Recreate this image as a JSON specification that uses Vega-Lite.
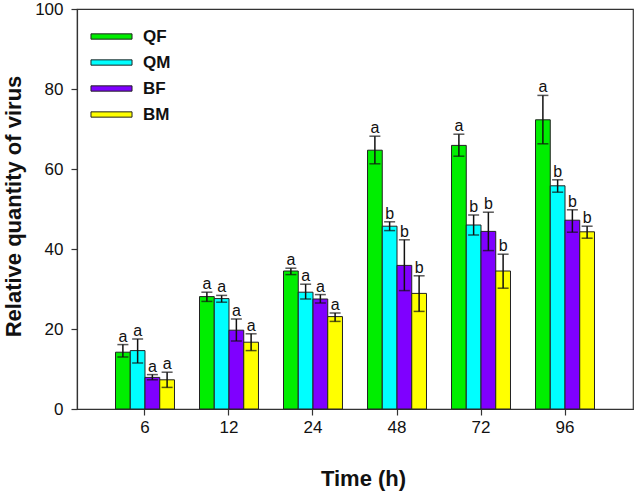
{
  "$schema": "https://vega.github.io/schema/vega-lite/v6.json",
  "width": 556,
  "height": 400,
  "autosize": {"type": "none"},
  "padding": {"left": 77, "top": 9, "right": 3, "bottom": 85},
  "background": "white",
  "config": {
    "font": "Liberation Sans",
    "view": {"stroke": "#333333", "strokeWidth": 1.2},
    "axis": {"grid": false, "domainColor": "#333333", "domainWidth": 1.2, "tickColor": "#333333", "tickWidth": 1.2, "labelColor": "#111111", "titleColor": "#111111"}
  },
  "data": {
    "values": [
      {"time": "6", "group": "QF", "value": 14.2, "lo": 13.0, "hi": 16.1, "letter": "a"},
      {"time": "6", "group": "QM", "value": 14.6, "lo": 11.5, "hi": 17.5, "letter": "a"},
      {"time": "6", "group": "BF", "value": 7.9, "lo": 7.3, "hi": 8.6, "letter": "a"},
      {"time": "6", "group": "BM", "value": 7.3, "lo": 5.4, "hi": 9.2, "letter": "a"},
      {"time": "12", "group": "QF", "value": 28.1, "lo": 26.9, "hi": 29.2, "letter": "a"},
      {"time": "12", "group": "QM", "value": 27.6, "lo": 26.7, "hi": 28.4, "letter": "a"},
      {"time": "12", "group": "BF", "value": 19.7, "lo": 17.0, "hi": 22.5, "letter": "a"},
      {"time": "12", "group": "BM", "value": 16.7, "lo": 14.6, "hi": 18.8, "letter": "a"},
      {"time": "24", "group": "QF", "value": 34.5, "lo": 33.6, "hi": 35.2, "letter": "a"},
      {"time": "24", "group": "QM", "value": 29.2, "lo": 27.5, "hi": 31.2, "letter": "a"},
      {"time": "24", "group": "BF", "value": 27.5, "lo": 26.5, "hi": 28.6, "letter": "a"},
      {"time": "24", "group": "BM", "value": 23.1, "lo": 21.9, "hi": 24.0, "letter": "a"},
      {"time": "48", "group": "QF", "value": 64.7, "lo": 61.3, "hi": 68.2, "letter": "a"},
      {"time": "48", "group": "QM", "value": 45.7, "lo": 44.6, "hi": 46.8, "letter": "b"},
      {"time": "48", "group": "BF", "value": 35.9, "lo": 29.6, "hi": 42.3, "letter": "b"},
      {"time": "48", "group": "BM", "value": 28.9, "lo": 24.4, "hi": 33.3, "letter": "b"},
      {"time": "72", "group": "QF", "value": 65.9, "lo": 63.2, "hi": 68.7, "letter": "a"},
      {"time": "72", "group": "QM", "value": 46.0, "lo": 43.5, "hi": 48.5, "letter": "b"},
      {"time": "72", "group": "BF", "value": 44.4, "lo": 39.6, "hi": 49.2, "letter": "b"},
      {"time": "72", "group": "BM", "value": 34.5, "lo": 30.2, "hi": 38.7, "letter": "b"},
      {"time": "96", "group": "QF", "value": 72.3, "lo": 66.3, "hi": 78.4, "letter": "a"},
      {"time": "96", "group": "QM", "value": 55.8, "lo": 54.2, "hi": 57.3, "letter": "b"},
      {"time": "96", "group": "BF", "value": 47.2, "lo": 44.2, "hi": 49.8, "letter": "b"},
      {"time": "96", "group": "BM", "value": 44.3, "lo": 42.7, "hi": 45.7, "letter": "b"}
    ]
  },
  "encoding": {
    "x": {
      "field": "time", "type": "nominal", "sort": ["6", "12", "24", "48", "72", "96"],
      "scale": {"paddingInner": 0.298, "paddingOuter": 0.4585},
      "axis": {
        "title": "Time (h)", "labelAngle": 0, "labelFontSize": 17, "tickSize": 6, "labelPadding": 4,
        "titleFontSize": 22, "titleFontWeight": "bold", "titleX": 286, "titleY": 76, "titleBaseline": "alphabetic", "titleAlign": "center"
      }
    },
    "xOffset": {"field": "group", "type": "nominal", "sort": ["QF", "QM", "BF", "BM"], "scale": {"paddingInner": 0, "paddingOuter": 0}}
  },
  "layer": [
    {
      "mark": {"type": "bar", "stroke": "#222222", "strokeWidth": 1, "opacity": 1},
      "encoding": {
        "y": {
          "field": "value", "type": "quantitative",
          "scale": {"domain": [0, 100], "nice": false},
          "axis": {
            "title": "Relative quantity of virus", "values": [0, 20, 40, 60, 80, 100], "labelFontSize": 17, "tickSize": 6, "labelPadding": 8,
            "titleFontSize": 22, "titleFontWeight": "bold", "titleAngle": -90, "titleX": -57, "titleY": 197, "titleAlign": "center", "titleBaseline": "alphabetic"
          }
        },
        "color": {
          "field": "group", "type": "nominal", "sort": ["QF", "QM", "BF", "BM"],
          "scale": {"domain": ["QF", "QM", "BF", "BM"], "range": ["#00ee00", "#00ffff", "#7f00ff", "#ffff00"]},
          "legend": {
            "title": null, "orient": "none", "legendX": 17, "legendY": 10, "padding": 0,
            "symbolType": "M-1.24,-0.16H1.24V0.16H-1.24Z", "symbolSize": 1096, "symbolStrokeColor": "#222222", "symbolStrokeWidth": 1, "symbolOpacity": 1,
            "labelFontSize": 17, "labelFontWeight": "bold", "labelOffset": 14, "labelColor": "#111111", "rowPadding": 0
          }
        }
      }
    },
    {
      "mark": {"type": "rule", "color": "#111111", "strokeWidth": 1.5},
      "encoding": {"y": {"field": "lo", "type": "quantitative"}, "y2": {"field": "hi"}}
    },
    {
      "mark": {"type": "tick", "color": "#111111", "thickness": 1.5, "size": 11, "orient": "horizontal"},
      "encoding": {"y": {"field": "lo", "type": "quantitative"}}
    },
    {
      "mark": {"type": "tick", "color": "#111111", "thickness": 1.5, "size": 11, "orient": "horizontal"},
      "encoding": {"y": {"field": "hi", "type": "quantitative"}}
    },
    {
      "mark": {"type": "text", "fontSize": 16, "baseline": "alphabetic", "dy": -3, "color": "#111111"},
      "encoding": {"y": {"field": "hi", "type": "quantitative"}, "text": {"field": "letter"}}
    }
  ]
}
